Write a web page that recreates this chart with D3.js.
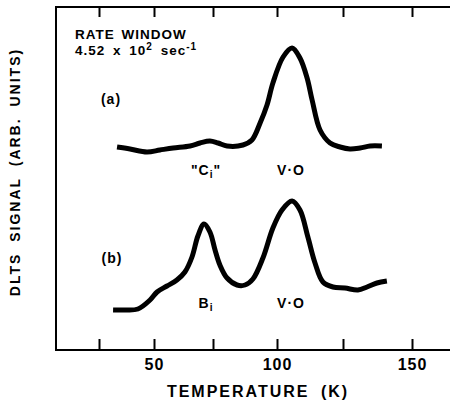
<!DOCTYPE html>
<html>
<head>
<meta charset="utf-8">
<script src="https://cdn.jsdelivr.net/npm/d3@7"></script>
<style>
    body { margin: 0; background: white; }
    svg { display: block; }
</style>
</head>
<body>
<div id="vis"></div>
<script>
// temperature ticks along the recorder axis (not evenly spaced on paper)
const tempTicks = [25, 50, 75, 100, 125, 150];
const tempLabels = ['', '50', '', '100', '', '150'];
const tickPos = [99, 154, 213, 277, 343, 412];

// trace (a): temperature (K), signal (arb.)
const tempA = [33.2, 39.1, 46.8, 52.5, 58.1, 65.3, 69.5, 73.7, 77.0, 80.5, 86.7, 90.2, 93.4, 96.1,
    98.4, 102.3, 105.7, 108.7, 111.4, 113.3, 116.3, 120.1, 123.9, 127.5, 131.2, 134.8, 139.1];
const signalA = [20.3, 20.1, 19.8, 20.0, 20.2, 20.4, 20.7, 20.9, 20.7, 20.4, 20.5, 21.0, 22.7, 24.5,
    26.7, 29.3, 30.2, 29.2, 27.2, 25.0, 22.0, 20.7, 20.3, 20.1, 20.2, 20.4, 20.4];

// trace (b)
const tempB = [31.4, 36.8, 42.7, 48.2, 51.3, 55.5, 59.7, 63.1, 66.1, 68.6, 71.2, 73.7, 75.8, 77.7,
    80.5, 84.4, 87.5, 90.6, 94.5, 98.4, 101.9, 105.7, 108.7, 111.7, 114.4, 117.4, 121.2, 125.7,
    130.4, 133.7, 137.3, 140.9];
const signalB = [4.0, 4.0, 4.1, 5.0, 5.8, 6.4, 7.0, 7.8, 9.3, 11.4, 12.6, 11.8, 10.0, 8.5,
    7.2, 6.5, 6.5, 7.1, 9.2, 12.2, 14.0, 14.9, 14.0, 11.3, 8.7, 6.8, 6.3, 6.2,
    6.0, 6.3, 6.7, 6.9];

const width = 450;
const height = 406;
const m = {left: 56, right: 450, top: 7, bottom: 350};

const svg = d3.select('#vis')
    .append('svg')
    .attr('width', width)
    .attr('height', height);

const x = d3.scaleLinear()
    .domain(tempTicks)
    .range(tickPos);

const y = d3.scaleLinear()
    .domain([0, 34.3])
    .range([m.bottom, m.top]);

// frame: left, top, bottom (no right side)
svg.append('path')
    .attr('d', `M${m.right},${m.top}H${m.left}V${m.bottom}H${m.right}`)
    .attr('fill', 'none')
    .attr('stroke', 'black')
    .attr('stroke-width', 2);

const xAxis = svg.append('g')
    .attr('transform', `translate(0,${m.bottom})`)
    .call(d3.axisBottom(x)
        .tickValues(tempTicks)
        .tickSize(-11)
        .tickPadding(9)
        .tickFormat((d, i) => tempLabels[i]));

const xTop = svg.append('g')
    .attr('transform', `translate(0,${m.top})`)
    .call(d3.axisTop(x)
        .tickValues(tempTicks)
        .tickSize(-10)
        .tickFormat(''));

[xAxis, xTop].forEach(g => {
    g.select('.domain').remove();
    g.selectAll('.tick line')
        .attr('stroke', 'black')
        .attr('stroke-width', 2);
});

xAxis.selectAll('.tick text')
    .attr('fill', 'black')
    .attr('font-family', 'Liberation Sans, Arial, Helvetica')
    .attr('font-weight', 'bold')
    .attr('font-size', '16px')
    .attr('letter-spacing', '1px');

const line = d3.line()
    .x(d => x(d[0]))
    .y(d => y(d[1]))
    .curve(d3.curveCatmullRom);

[[tempA, signalA], [tempB, signalB]].forEach(s => {
    svg.append('path')
        .datum(d3.zip(s[0], s[1]))
        .attr('d', line)
        .attr('fill', 'none')
        .attr('stroke', 'black')
        .attr('stroke-width', 5)
        .attr('stroke-linejoin', 'round')
        .attr('stroke-linecap', 'butt');
});

function label(xp, yp, size, anchor) {
    return svg.append('text')
        .attr('x', xp)
        .attr('y', yp)
        .attr('fill', 'black')
        .attr('font-family', 'Liberation Sans, Arial, Helvetica')
        .attr('font-weight', 'bold')
        .attr('font-size', size)
        .attr('letter-spacing', '1px')
        .attr('text-anchor', anchor || 'start');
}

label(75, 39, '13.5px').text('RATE WINDOW').attr('word-spacing', '2px');
const rw = label(75, 55, '13.5px').attr('word-spacing', '3px');
rw.append('tspan').text('4.52 x 10');
rw.append('tspan').attr('dy', -5).attr('font-size', '10px').text('2');
rw.append('tspan').attr('dy', 5).text(' sec');
rw.append('tspan').attr('dy', -5).attr('font-size', '10px').text('-1');

label(111, 104, '14px', 'middle').text('(a)');
label(112, 263, '14px', 'middle').text('(b)');

const ci = label(206, 175, '14px', 'middle');
ci.append('tspan').text('"C');
ci.append('tspan').attr('dy', 3).attr('font-size', '10px').text('i');
ci.append('tspan').attr('dy', -3).text('"');

label(291, 175, '14px', 'middle').text('V·O');

const bi = label(206, 308, '14px', 'middle');
bi.append('tspan').text('B');
bi.append('tspan').attr('dy', 3).attr('font-size', '10px').text('i');

label(291, 308, '14px', 'middle').text('V·O');

label(258, 397, '16px', 'middle')
    .attr('letter-spacing', '2px')
    .attr('word-spacing', '5px')
    .text('TEMPERATURE (K)');

label(0, 0, '14px', 'middle')
    .attr('transform', 'translate(20,172) rotate(-90)')
    .attr('letter-spacing', '2px')
    .attr('word-spacing', '5px')
    .text('DLTS SIGNAL (ARB. UNITS)');
</script>
</body>
</html>
